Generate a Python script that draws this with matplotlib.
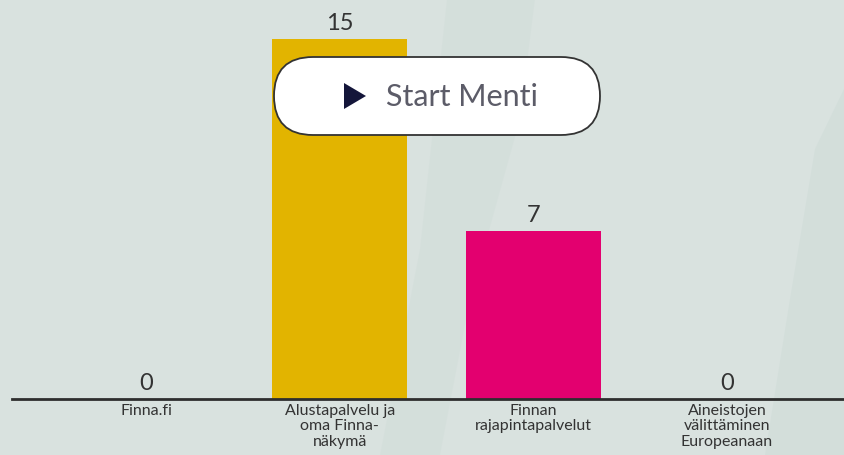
import numpy as np
import matplotlib.pyplot as plt
from matplotlib.patches import FancyBboxPatch, Polygon

# Data
categories = ["Finna.fi", "Alustapalvelu ja\noma Finna-\nnäkymä",
              "Finnan\nrajapintapalvelut", "Aineistojen\nvälittäminen\nEuropeanaan"]
values = [0, 15, 7, 0]
bar_colors = ["#4a5a8c", "#e2b400", "#e3006f", "#5ea4a0"]

bg = "#d9e2df"
text_col = "#333333"
plt.rcParams['font.family'] = ['Lato', 'DejaVu Sans']

fig = plt.figure(figsize=(8.44, 4.56), dpi=100)
fig.patch.set_facecolor(bg)

# overlay in pixel units for decorations and the button
over = fig.add_axes([0, 0, 1, 1])
over.set_xlim(0, 844)
over.set_ylim(456, 0)
over.axis('off')
over.set_zorder(0)

# faint background bands
over.add_patch(Polygon([[447, 0], [535, 0], [520, 120], [470, 300], [440, 456], [380, 456], [420, 250]],
                       closed=True, facecolor="#d1ddd9", edgecolor='none', alpha=0.5))
over.add_patch(Polygon([[844, 90], [844, 456], [765, 456], [790, 300], [815, 150]],
                       closed=True, facecolor="#cfdcd8", edgecolor='none', alpha=0.6))

ax = fig.add_axes([12 / 844, 56 / 456, 832 / 844, 400 / 456])
ax.set_facecolor('none')
ax.set_zorder(1)

x = np.arange(len(categories))
ax.bar(x, values, width=0.70, color=bar_colors, zorder=2)
ax.set_xlim(-0.692, 3.604)
ax.set_ylim(0, 400 / 24)

for xi, v in zip(x, values):
    ax.annotate(str(v), (xi, v), xytext=(0, 7.5), textcoords='offset points',
                ha='center', va='baseline', fontsize=17, color=text_col)

ax.set_xticks(x, categories)
ax.tick_params(axis='x', length=0, pad=3, labelsize=11.5, labelcolor=text_col)
for lab in ax.get_xticklabels():
    lab.set_linespacing(1.12)
ax.set_yticks([])
for s in ['top', 'left', 'right']:
    ax.spines[s].set_visible(False)
ax.spines['bottom'].set_color('#2e2e2e')
ax.spines['bottom'].set_linewidth(2)

# "Start Menti" button on top
btn = fig.add_axes([0, 0, 1, 1])
btn.set_xlim(0, 844)
btn.set_ylim(456, 0)
btn.axis('off')
btn.set_zorder(3)
btn.add_patch(FancyBboxPatch((274 + 39, 58 + 39), 326 - 78, 0,
                             boxstyle="round,pad=39,rounding_size=39",
                             mutation_scale=1, facecolor='white',
                             edgecolor='#333333', linewidth=1.3))
btn.add_patch(Polygon([[344, 84], [344, 110], [366, 97]], closed=True,
                      facecolor='#14163a', edgecolor='none'))
btn.text(386, 97, "Start Menti", ha='left', va='center', fontsize=22,
         color='#5c5c68')

fig.savefig("out.png", dpi=100, facecolor=bg)
